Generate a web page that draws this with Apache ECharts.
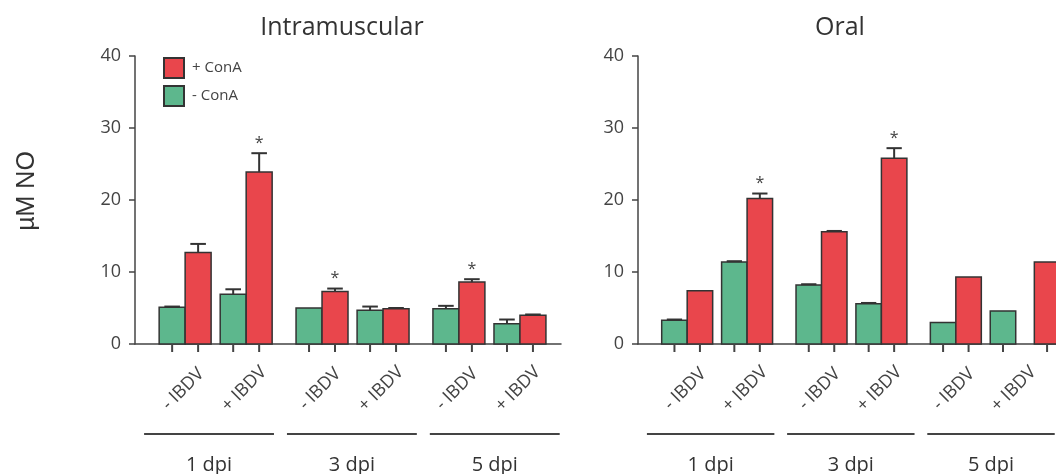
<!DOCTYPE html>
<html>
<head>
<meta charset="utf-8">
<script src="https://cdn.jsdelivr.net/npm/echarts@6/dist/echarts.min.js"></script>
<style>
  html, body { margin: 0; padding: 0; background: #ffffff; }
  #chart { width: 1056px; height: 474px; }
</style>
</head>
<body>
<div id="chart"></div>
<script>
// ---- data ----
const panelTitles = ['Intramuscular', 'Oral'];
const dpiLabels = ['1 dpi', '3 dpi', '5 dpi'];
const ibdvLabels = ['- IBDV', '+ IBDV'];
const seriesNames = ['- ConA', '+ ConA'];
const yTicks = [0, 10, 20, 30, 40];

// Intramuscular: six columns = (-IBDV, +IBDV) x (1, 3, 5 dpi)
const imMinusConA    = [5.1, 6.9, 5.0, 4.7, 4.9, 2.8];
const imMinusConAErr = [0.1, 0.7, 0.0, 0.5, 0.4, 0.6];
const imPlusConA     = [12.7, 23.9, 7.3, 4.9, 8.6, 4.0];
const imPlusConAErr  = [1.2, 2.6, 0.4, 0.1, 0.4, 0.1];
const imSignificant  = [0, 1, 1, 0, 1, 0];

// Oral
const oralMinusConA    = [3.3, 11.4, 8.2, 5.6, 3.0, 4.6];
const oralMinusConAErr = [0.1, 0.1, 0.1, 0.1, 0.0, 0.0];
const oralPlusConA     = [7.4, 20.2, 15.6, 25.8, 9.3, 11.4];
const oralPlusConAErr  = [0.0, 0.7, 0.1, 1.4, 0.0, 0.0];
const oralSignificant  = [0, 1, 0, 1, 0, 0];

// ---- layout (x axis in bar-width units) ----
const BAR = 1, PAIR_GAP = 0.35, GROUP_GAP = 0.92, LEAD = 0.93, X_MAX = 16.4;
const NOTE_START = 2.85, NOTE_STEP = 5.5, NOTE_LINE = 5;
const COLORS = ['#5db78d', '#e9464c'];
const INK = '#444444';
const FONT = '"Open Sans", "Noto Sans", sans-serif';

function barLeft(i, b) {
  const g = Math.floor(i / 2), p = i % 2;
  return LEAD + g * (4 * BAR + PAIR_GAP + GROUP_GAP) + p * (2 * BAR + PAIR_GAP) + b * BAR;
}

const panels = [
  { minus: imMinusConA, minusErr: imMinusConAErr, plus: imPlusConA, plusErr: imPlusConAErr, sig: imSignificant, nudge: {} },
  { minus: oralMinusConA, minusErr: oralMinusConAErr, plus: oralPlusConA, plusErr: oralPlusConAErr, sig: oralSignificant, nudge: { '5-1': 0.73 } }
];

function barRenderer(color) {
  return function (params, api) {
    const xl = api.value(0), v = api.value(1), e = api.value(2), s = api.value(3);
    const tl = api.coord([xl, v]);
    const br = api.coord([xl + BAR, 0]);
    const xc = (tl[0] + br[0]) / 2;
    const children = [
      { type: 'rect', shape: { x: tl[0], y: tl[1], width: br[0] - tl[0], height: br[1] - tl[1] },
        style: { fill: color, stroke: '#333', lineWidth: 1.5 } },
      { type: 'line', shape: { x1: xc, y1: br[1], x2: xc, y2: br[1] + 8 },
        style: { stroke: INK, lineWidth: 2 } }
    ];
    let top = tl[1];
    if (e > 0) {
      top = api.coord([xl, v + e])[1];
      const half = api.size([0.3, 0])[0];
      children.push({ type: 'line', shape: { x1: xc, y1: tl[1], x2: xc, y2: top }, style: { stroke: '#333', lineWidth: 2 } });
      children.push({ type: 'line', shape: { x1: xc - half, y1: top, x2: xc + half, y2: top }, style: { stroke: '#333', lineWidth: 2 } });
    }
    if (s) {
      children.push({ type: 'text', style: { text: '*', x: xc, y: top - 10, align: 'center', verticalAlign: 'middle',
        fontSize: 16, fontFamily: FONT, fill: INK } });
    }
    return { type: 'group', children };
  };
}

function pairLabelRenderer(params, api) {
  const p = api.coord([api.value(0), 0]);
  return { type: 'text', x: p[0] - 2, y: p[1] + 45, rotation: Math.PI / 4,
    style: { text: ibdvLabels[params.dataIndex % 2], x: 0, y: 0, align: 'center', verticalAlign: 'middle',
      fontSize: 18, fontFamily: FONT, fill: INK } };
}

function groupNoteRenderer(params, api) {
  const c = api.coord([api.value(0), 0]);
  const half = api.size([NOTE_LINE / 2, 0])[0];
  return { type: 'group', children: [
    { type: 'line', shape: { x1: c[0] - half, y1: c[1] + 90, x2: c[0] + half, y2: c[1] + 90 },
      style: { stroke: INK, lineWidth: 2 } },
    { type: 'text', style: { text: dpiLabels[params.dataIndex], x: c[0], y: c[1] + 121, align: 'center',
      verticalAlign: 'middle', fontSize: 20, fontFamily: FONT, fill: '#333' } }
  ] };
}

const grids = [], xAxes = [], yAxes = [], series = [];
const gridLefts = [135, 638];
panels.forEach((pn, k) => {
  grids.push({ left: gridLefts[k], top: 56, width: 426, height: 288 });
  xAxes.push({ type: 'value', gridIndex: k, min: 0, max: X_MAX,
    axisLine: { show: true, lineStyle: { color: INK, width: 1.5 } },
    axisTick: { show: false }, axisLabel: { show: false }, splitLine: { show: false } });
  yAxes.push({ type: 'value', gridIndex: k, min: yTicks[0], max: yTicks[yTicks.length - 1], interval: 10,
    axisLine: { show: true, lineStyle: { color: INK, width: 1.5 } },
    axisTick: { show: true, inside: false, length: 6, lineStyle: { color: INK, width: 1.5 } },
    axisLabel: { fontSize: 18, color: INK, margin: 14, fontFamily: FONT },
    splitLine: { show: false } });

  [[pn.minus, pn.minusErr], [pn.plus, pn.plusErr]].forEach(([vals, errs], b) => {
    series.push({
      type: 'custom', name: seriesNames[b], xAxisIndex: k, yAxisIndex: k,
      itemStyle: { color: COLORS[b], borderColor: '#333', borderWidth: 1.5 },
      renderItem: barRenderer(COLORS[b]),
      encode: { x: 0, y: 1 },
      data: vals.map((v, i) => [barLeft(i, b) + (pn.nudge[i + '-' + b] || 0), v, errs[i], b === 1 ? pn.sig[i] : 0])
    });
  });

  series.push({ type: 'custom', xAxisIndex: k, yAxisIndex: k, silent: true, renderItem: pairLabelRenderer,
    encode: { x: 0, y: 1 }, data: pn.minus.map((_, i) => [barLeft(i, 0) + BAR, 0]) });
  series.push({ type: 'custom', xAxisIndex: k, yAxisIndex: k, silent: true, renderItem: groupNoteRenderer,
    encode: { x: 0, y: 1 }, data: dpiLabels.map((_, g) => [NOTE_START + g * NOTE_STEP, 0]) });
});

const chart = echarts.init(document.getElementById('chart'), null, { renderer: 'canvas' });
chart.setOption({
  animation: false,
  backgroundColor: '#ffffff',
  grid: grids, xAxis: xAxes, yAxis: yAxes, series,
  legend: {
    data: [seriesNames[1], seriesNames[0]], orient: 'vertical', left: 158, top: 52,
    icon: 'rect', itemWidth: 20, itemHeight: 20, itemGap: 6, selectedMode: false,
    textStyle: { fontSize: 15, color: INK, fontFamily: FONT, padding: [0, 0, 0, 3] }
  },
  graphic: [
    { type: 'text', x: 342, y: 28, style: { text: panelTitles[0], align: 'center', verticalAlign: 'middle',
      fontSize: 25, fontFamily: FONT, fill: '#333' } },
    { type: 'text', x: 840, y: 28, style: { text: panelTitles[1], align: 'center', verticalAlign: 'middle',
      fontSize: 25, fontFamily: FONT, fill: '#333' } },
    { type: 'text', x: 27, y: 191, rotation: Math.PI / 2, style: { text: 'µM NO', align: 'center',
      verticalAlign: 'middle', fontSize: 25, fontFamily: '"Liberation Sans", Arial, sans-serif', fill: '#333' } }
  ]
});
</script>
</body>
</html>
